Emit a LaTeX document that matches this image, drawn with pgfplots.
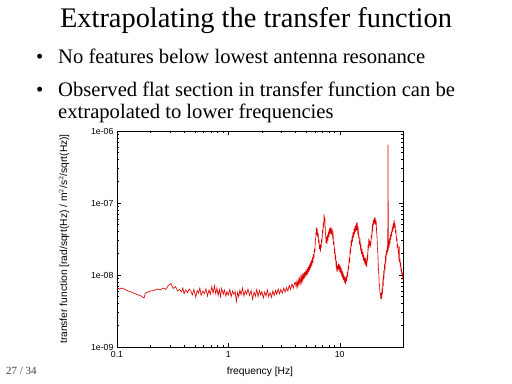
\documentclass[border=0pt]{standalone}
\usepackage{pgfplots}
\pgfplotsset{compat=1.18}
\usepackage{fontspec}
\setmainfont{Liberation Serif}
\newfontfamily\sansf{Liberation Sans}
\definecolor{curve}{RGB}{222,0,0}
\begin{document}
\begin{tikzpicture}
\path[use as bounding box,fill=white] (0bp,0bp) rectangle (512bp,384bp);
\node[anchor=base,inner sep=0pt,font=\fontsize{28.5}{32}\selectfont] at (256bp,356bp) {Extrapolating the transfer function};
\node[anchor=base west,inner sep=0pt,font=\fontsize{20.7}{24}\selectfont] at (36bp,320bp) {\textbullet};
\node[anchor=base west,inner sep=0pt,font=\fontsize{20.7}{24}\selectfont] at (58bp,320bp) {No features below lowest antenna resonance};
\node[anchor=base west,inner sep=0pt,font=\fontsize{20.7}{24}\selectfont] at (36bp,287bp) {\textbullet};
\node[anchor=base west,inner sep=0pt,font=\fontsize{20.7}{24}\selectfont] at (58bp,287bp) {Observed flat section in transfer function can be};
\node[anchor=base west,inner sep=0pt,font=\fontsize{20.7}{24}\selectfont] at (58bp,265bp) {extrapolated to lower frequencies};
\node[anchor=base west,inner sep=0pt,font=\fontsize{11}{13}\selectfont,text=black!75] at (6bp,10bp) {27 / 34};
\begin{axis}[
  at={(117bp,37bp)}, anchor=south west,
  width=286bp, height=216bp, scale only axis,
  xmode=log, ymode=log,
  xmin=0.1, xmax=37, ymin=1e-9, ymax=1e-6,
  xtick={0.1,1,10}, xticklabels={0.1,1,10},
  ytick={1e-9,1e-8,1e-7,1e-6}, yticklabels={1e-09,1e-08,1e-07,1e-06},
  font=\sansf\fontsize{10.3}{12}\selectfont,
  ticklabel style={font=\sansf\fontsize{8.8}{10}\selectfont},
  xticklabel style={yshift=-1bp},
  axis line style={line width=0.6pt},
  every tick/.style={black,line width=0.4pt},
  major tick length=4bp, minor tick length=2bp,
  xlabel={frequency [Hz]},
  ylabel={transfer function [rad/sqrt(Hz) / m$^2$/s$^2$/sqrt(Hz)]},
  every axis x label/.style={at={(axis description cs:0.5,-0.116)},anchor=center},
  every axis y label/.style={at={(axis description cs:-0.185,0.5)},anchor=center,rotate=90},
  clip=true,
]
\addplot[color=curve, line width=0.65pt] coordinates {
(0.100,6.6e-9)(0.105,6.4e-9)(0.110,6.6e-9)(0.118,6.3e-9)(0.125,6.0e-9)(0.135,5.8e-9)
(0.145,5.5e-9)(0.155,5.3e-9)(0.165,5.1e-9)(0.175,4.8e-9)(0.180,5.6e-9)(0.190,5.8e-9)
(0.200,6.0e-9)(0.215,6.1e-9)(0.230,6.4e-9)(0.245,6.2e-9)(0.260,6.6e-9)(0.275,6.3e-9)
(0.290,7.2e-9)(0.305,7.6e-9)(0.32,6.5e-9)(0.335,6.9e-9)(0.35,6.0e-9)(0.365,6.3e-9)
(0.38,5.8e-9)(0.39,6.6e-9)(0.40,5.5e-9)(0.415,6.2e-9)(0.43,5.7e-9)(0.445,6.4e-9)
(0.46,6.0e-9)(0.475,5.3e-9)(0.49,6.3e-9)(0.51,4.9e-9)(0.525,6.1e-9)(0.54,5.6e-9)
(0.555,6.6e-9)(0.57,5.2e-9)(0.59,6.0e-9)(0.61,5.5e-9)(0.63,6.4e-9)(0.65,5.1e-9)
(0.67,6.2e-9)(0.69,5.4e-9)(0.71,6.9e-9)(0.73,5.6e-9)(0.75,7.1e-9)(0.77,5.5e-9)
(0.79,6.6e-9)(0.81,5.2e-9)(0.83,6.3e-9)(0.85,5.0e-9)(0.87,6.5e-9)(0.90,5.4e-9)
(0.92,6.2e-9)(0.95,5.1e-9)(0.97,5.9e-9)(1.00,5.3e-9)(1.03,6.3e-9)(1.06,5.0e-9)
(1.09,6.0e-9)(1.12,5.4e-9)(1.15,5.9e-9)(1.18,4.3e-9)(1.21,5.7e-9)(1.24,5.0e-9)
(1.27,6.2e-9)(1.30,5.3e-9)(1.34,6.6e-9)(1.38,5.1e-9)(1.42,6.0e-9)(1.46,5.4e-9)
(1.50,6.4e-9)(1.55,5.2e-9)(1.60,6.1e-9)(1.65,4.6e-9)(1.70,5.8e-9)(1.75,5.1e-9)
(1.80,6.3e-9)(1.85,5.0e-9)(1.90,6.1e-9)(1.95,5.3e-9)(2.00,5.9e-9)(2.06,4.8e-9)
(2.12,5.8e-9)(2.18,5.1e-9)(2.24,6.2e-9)(2.30,5.0e-9)(2.37,5.7e-9)(2.44,4.9e-9)
(2.51,6.0e-9)(2.58,5.2e-9)(2.65,6.1e-9)(2.72,5.4e-9)(2.80,6.4e-9)(2.88,5.5e-9)
(2.96,6.3e-9)(3.05,5.6e-9)(3.14,6.6e-9)(3.23,5.8e-9)(3.32,6.7e-9)(3.42,6.0e-9)
(3.52,7.2e-9)(3.62,6.3e-9)(3.72,7.5e-9)(3.83,6.6e-9)(3.94,7.8e-9)
(4.00,7.9e-9)(4.06,6.8e-9)(4.12,8.1e-9)(4.18,7.0e-9)(4.24,8.6e-9)(4.30,7.3e-9)
(4.36,8.9e-9)(4.42,7.7e-9)(4.48,9.6e-9)(4.54,8.0e-9)(4.60,9.9e-9)(4.66,8.4e-9)
(4.72,1.05e-8)(4.78,8.8e-9)(4.84,1.1e-8)(4.90,9.3e-9)(4.96,1.16e-8)(5.02,9.8e-9)
(5.08,1.22e-8)(5.14,1.03e-8)(5.20,1.30e-8)(5.26,1.09e-8)(5.32,1.38e-8)(5.38,1.16e-8)
(5.44,1.48e-8)(5.50,1.25e-8)(5.56,1.60e-8)(5.62,1.35e-8)(5.68,1.75e-8)(5.74,1.48e-8)
(5.80,1.95e-8)(5.86,1.70e-8)(5.92,2.30e-8)(5.98,2.05e-8)(6.04,3.0e-8)(6.10,3.3e-8)
(6.16,4.6e-8)(6.22,3.9e-8)(6.28,4.4e-8)(6.34,3.3e-8)(6.40,3.8e-8)(6.46,2.8e-8)
(6.52,3.1e-8)(6.58,2.3e-8)(6.64,2.6e-8)(6.70,2.1e-8)(6.76,2.7e-8)(6.82,2.4e-8)
(6.88,3.2e-8)(6.94,2.9e-8)(7.00,4.2e-8)(7.06,3.8e-8)(7.12,5.4e-8)(7.18,4.6e-8)
(7.24,7.0e-8)(7.30,5.5e-8)(7.36,6.2e-8)(7.42,4.1e-8)(7.48,3.5e-8)(7.54,2.8e-8)
(7.60,3.4e-8)(7.68,2.7e-8)(7.76,3.6e-8)(7.84,3.0e-8)(7.92,4.0e-8)(8.00,3.4e-8)
(8.08,4.4e-8)(8.16,3.7e-8)(8.24,4.6e-8)(8.32,3.8e-8)(8.40,4.5e-8)(8.48,3.6e-8)
(8.56,4.3e-8)(8.64,3.4e-8)(8.72,3.7e-8)(8.80,2.7e-8)(8.88,2.8e-8)(8.96,2.1e-8)
(9.04,2.2e-8)(9.12,1.7e-8)(9.20,1.8e-8)(9.28,1.35e-8)(9.36,1.45e-8)(9.44,1.1e-8)
(9.52,1.35e-8)(9.62,1.15e-8)(9.72,1.45e-8)(9.82,1.2e-8)(9.92,1.4e-8)(10.02,1.1e-8)
(10.12,1.35e-8)(10.22,1.05e-8)(10.32,1.25e-8)(10.42,9.6e-9)(10.52,1.15e-8)(10.62,9.0e-9)
(10.72,1.08e-8)(10.84,8.4e-9)(10.96,9.8e-9)(11.08,7.8e-9)(11.20,9.2e-9)(11.32,7.4e-9)
(11.44,9.6e-9)(11.56,8.2e-9)(11.68,1.1e-8)(11.80,9.5e-9)(11.92,1.35e-8)(12.04,1.2e-8)
(12.16,1.75e-8)(12.28,1.5e-8)(12.40,2.3e-8)(12.52,2.0e-8)(12.64,3.0e-8)(12.76,2.5e-8)
(12.88,3.4e-8)(13.00,2.9e-8)(13.15,3.9e-8)(13.30,3.3e-8)(13.45,4.4e-8)(13.60,3.7e-8)
(13.75,4.8e-8)(13.90,4.0e-8)(14.05,5.2e-8)(14.20,4.2e-8)(14.35,5.4e-8)(14.50,4.0e-8)
(14.65,4.4e-8)(14.80,3.3e-8)(14.95,3.4e-8)(15.10,2.6e-8)(15.25,2.9e-8)(15.40,2.3e-8)
(15.55,2.5e-8)(15.70,1.95e-8)(15.85,2.3e-8)(16.00,1.8e-8)(16.15,2.1e-8)(16.30,1.6e-8)
(16.45,1.9e-8)(16.60,1.5e-8)(16.75,1.75e-8)(16.90,1.4e-8)(17.05,1.7e-8)(17.20,1.35e-8)
(17.35,1.6e-8)(17.50,1.3e-8)(17.65,1.9e-8)(17.80,1.6e-8)(17.95,2.6e-8)(18.10,2.4e-8)
(18.25,3.2e-8)(18.40,2.6e-8)(18.55,3.0e-8)(18.70,2.4e-8)(18.85,2.9e-8)(19.00,2.5e-8)
(19.20,3.6e-8)(19.40,3.2e-8)(19.60,4.7e-8)(19.80,4.3e-8)(20.00,5.8e-8)(20.20,5.0e-8)
(20.40,6.3e-8)(20.60,5.2e-8)(20.80,6.2e-8)(21.00,5.0e-8)(21.20,5.8e-8)(21.40,4.2e-8)
(21.60,3.5e-8)(21.80,2.4e-8)(22.00,2.0e-8)(22.20,1.3e-8)(22.40,1.1e-8)(22.60,7.8e-9)
(22.80,7.0e-9)(23.00,5.6e-9)(23.20,5.6e-9)(23.40,4.6e-9)(23.60,5.2e-9)(23.80,4.7e-9)
(24.00,6.2e-9)(24.20,5.8e-9)(24.40,8.2e-9)(24.60,7.6e-9)(24.80,1.05e-8)(25.00,9.8e-9)
(25.25,1.35e-8)(25.50,1.25e-8)(25.75,1.75e-8)(26.00,1.6e-8)(26.25,2.2e-8)(26.50,1.9e-8)
(26.75,2.5e-8)(27.00,2.1e-8)(27.15,6.4e-7)(27.30,2.2e-8)(27.50,3.0e-8)(27.75,2.4e-8)
(28.00,3.2e-8)(28.25,2.7e-8)(28.50,3.6e-8)(28.75,3.1e-8)(29.00,4.0e-8)(29.30,3.5e-8)
(29.60,4.6e-8)(29.90,4.0e-8)(30.20,5.2e-8)(30.50,4.4e-8)(30.80,5.8e-8)(31.10,4.6e-8)
(31.40,5.2e-8)(31.70,3.8e-8)(32.00,4.2e-8)(32.30,3.0e-8)(32.60,3.3e-8)(32.90,2.4e-8)
(33.20,2.7e-8)(33.50,2.0e-8)(33.80,2.2e-8)(34.00,1.6e-8)(34.20,2.5e-8)(34.40,1.5e-8)
(34.70,1.7e-8)(35.00,1.3e-8)(35.30,1.5e-8)(35.60,1.1e-8)(35.90,1.25e-8)(36.20,9.6e-9)
(36.50,1.1e-8)(36.80,8.6e-9)(37.00,9.5e-9)
};
\end{axis}
\end{tikzpicture}
\end{document}
